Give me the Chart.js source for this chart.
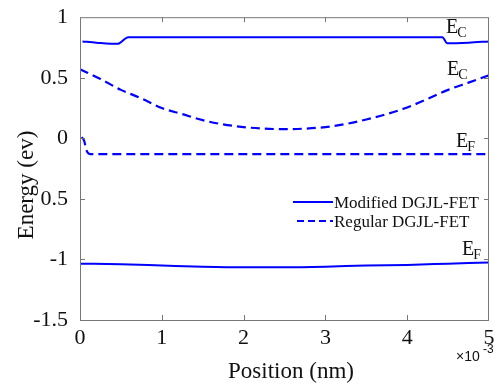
<!DOCTYPE html>
<html>
<head>
<meta charset="utf-8">
<script src="https://cdn.jsdelivr.net/npm/chart.js@4/dist/chart.umd.min.js"></script>
<style>
  html, body { margin: 0; padding: 0; background: #fff; }
  #wrap { width: 495px; height: 385px; }
</style>
</head>
<body>
<div id="wrap"><canvas id="chart" width="495" height="385"></canvas></div>
<script>
// position in units of 1e-3 nm
var yTicks = [1, 0.5, 0, -0.5, -1, -1.5];
var yTickLabels = ['1', '0.5', '0', '0.5', '-1', '-1.5'];
var xTicks = [0, 1, 2, 3, 4, 5];

var modEcX = [0.03, 0.2, 0.46, 0.59, 4.43, 4.49, 4.75, 5];
var modEcY = [0.80, 0.79, 0.78, 0.835, 0.835, 0.785, 0.79, 0.80];

var modEfX = [0, 0.5, 1, 1.5, 2, 2.5, 3, 3.5, 4, 4.5, 5];
var modEfY = [-1.035, -1.04, -1.05, -1.06, -1.065, -1.065, -1.06, -1.05, -1.045, -1.035, -1.025];

var regEcX = [0, 0.25, 0.5, 0.75, 1, 1.25, 1.5, 1.75, 2, 2.25, 2.5, 2.75, 3, 3.25, 3.5, 3.75, 4, 4.25, 4.5, 4.75, 5];
var regEcY = [0.57, 0.49, 0.40, 0.33, 0.25, 0.20, 0.15, 0.115, 0.093, 0.08, 0.076, 0.08, 0.093, 0.118, 0.155, 0.20, 0.255, 0.325, 0.40, 0.46, 0.52];

var regEfX = [0.02, 0.05, 0.08, 0.12, 5];
var regEfY = [0.01, -0.02, -0.10, -0.13, -0.13];

var blue = '#0000ff';

function pts(xs, ys) {
  var out = [];
  for (var i = 0; i < xs.length; i++) {
    out.push({ x: xs[i], y: ys[i] });
  }
  return out;
}

var frame = {
  id: 'frame',
  afterDraw: function (chart) {
    var ctx = chart.ctx;
    var a = chart.chartArea;
    var xs = chart.scales.x;
    var ys = chart.scales.y;
    ctx.save();
    // box and inward ticks
    ctx.strokeStyle = '#777';
    ctx.lineWidth = 1;
    ctx.strokeRect(a.left + 0.5, a.top + 0.5, a.right - a.left - 1, a.bottom - a.top);
    ctx.beginPath();
    for (var i = 1; i < xTicks.length - 1; i++) {
      var px = Math.round(xs.getPixelForValue(xTicks[i])) + 0.5;
      ctx.moveTo(px, a.bottom); ctx.lineTo(px, a.bottom - 5);
      ctx.moveTo(px, a.top); ctx.lineTo(px, a.top + 5);
    }
    for (var j = 1; j < yTicks.length - 1; j++) {
      var py = Math.round(ys.getPixelForValue(yTicks[j])) + 0.5;
      ctx.moveTo(a.left, py); ctx.lineTo(a.left + 5, py);
      ctx.moveTo(a.right, py); ctx.lineTo(a.right - 5, py);
    }
    ctx.stroke();

    // axis titles
    ctx.fillStyle = '#111';
    ctx.font = '23px "Liberation Serif", serif';
    ctx.textAlign = 'center';
    ctx.textBaseline = 'alphabetic';
    ctx.fillText('Position (nm)', 291, 378);
    ctx.save();
    ctx.translate(33, 185);
    ctx.rotate(-Math.PI / 2);
    ctx.fillText('Energy (ev)', 0, 0);
    ctx.restore();

    // x10^-3
    ctx.textAlign = 'left';
    ctx.font = '14px "Liberation Sans", sans-serif';
    ctx.fillText('\u00d710', 456, 361);
    ctx.font = '12px "Liberation Sans", sans-serif';
    ctx.fillText('-3', 483, 353);

    // band labels
    function band(x, y, sub) {
      ctx.font = '20px "Liberation Serif", serif';
      ctx.fillText('E', x, y);
      var w = ctx.measureText('E').width;
      ctx.font = '14px "Liberation Serif", serif';
      ctx.fillText(sub, x + w - 1, y + 4);
    }
    band(446, 33, 'C');
    band(447, 75, 'C');
    band(456, 147, 'F');
    band(462, 255, 'F');

    // legend
    ctx.strokeStyle = blue;
    ctx.lineWidth = 2;
    ctx.beginPath();
    ctx.moveTo(293, 202); ctx.lineTo(333, 202);
    ctx.stroke();
    ctx.setLineDash([7, 4]);
    ctx.beginPath();
    ctx.moveTo(297, 221); ctx.lineTo(333, 221);
    ctx.stroke();
    ctx.setLineDash([]);
    ctx.font = '17px "Liberation Serif", serif';
    ctx.fillText('Modified DGJL-FET', 334, 208);
    ctx.fillText('Regular DGJL-FET', 334, 227);
    ctx.restore();
  }
};

function solid(label, data) {
  return { label: label, data: data, borderColor: blue, borderWidth: 2, pointRadius: 0, cubicInterpolationMode: 'monotone' };
}
function dashed(label, data) {
  return { label: label, data: data, borderColor: blue, borderWidth: 2.2, borderDash: [9, 5], pointRadius: 0, cubicInterpolationMode: 'monotone' };
}

new Chart(document.getElementById('chart'), {
  type: 'line',
  data: {
    datasets: [
      solid('Modified DGJL-FET Ec', pts(modEcX, modEcY)),
      solid('Modified DGJL-FET EF', pts(modEfX, modEfY)),
      dashed('Regular DGJL-FET Ec', pts(regEcX, regEcY)),
      dashed('Regular DGJL-FET EF', pts(regEfX, regEfY))
    ]
  },
  options: {
    responsive: false,
    animation: false,
    layout: { padding: { top: 16, right: 6, left: 0, bottom: 0 } },
    plugins: { legend: { display: false }, tooltip: { enabled: false } },
    scales: {
      x: {
        type: 'linear', min: 0, max: 5,
        grid: { display: false },
        border: { display: false },
        afterBuildTicks: function (s) { s.ticks = xTicks.map(function (v) { return { value: v }; }); },
        afterFit: function (s) { s.height = 65; },
        ticks: {
          padding: -3, color: '#111', maxRotation: 0,
          font: { family: '"Liberation Serif", serif', size: 22 },
          callback: function (v) { return String(v); }
        }
      },
      y: {
        type: 'linear', min: -1.5, max: 1,
        grid: { display: false },
        border: { display: false },
        afterBuildTicks: function (s) { s.ticks = yTicks.map(function (v) { return { value: v }; }); },
        afterFit: function (s) { s.width = 80; },
        ticks: {
          padding: 4, color: '#111',
          font: { family: '"Liberation Serif", serif', size: 22 },
          callback: function (v) {
            var k = yTicks.indexOf(v);
            return k >= 0 ? yTickLabels[k] : '';
          }
        }
      }
    }
  },
  plugins: [frame]
});
</script>
</body>
</html>
